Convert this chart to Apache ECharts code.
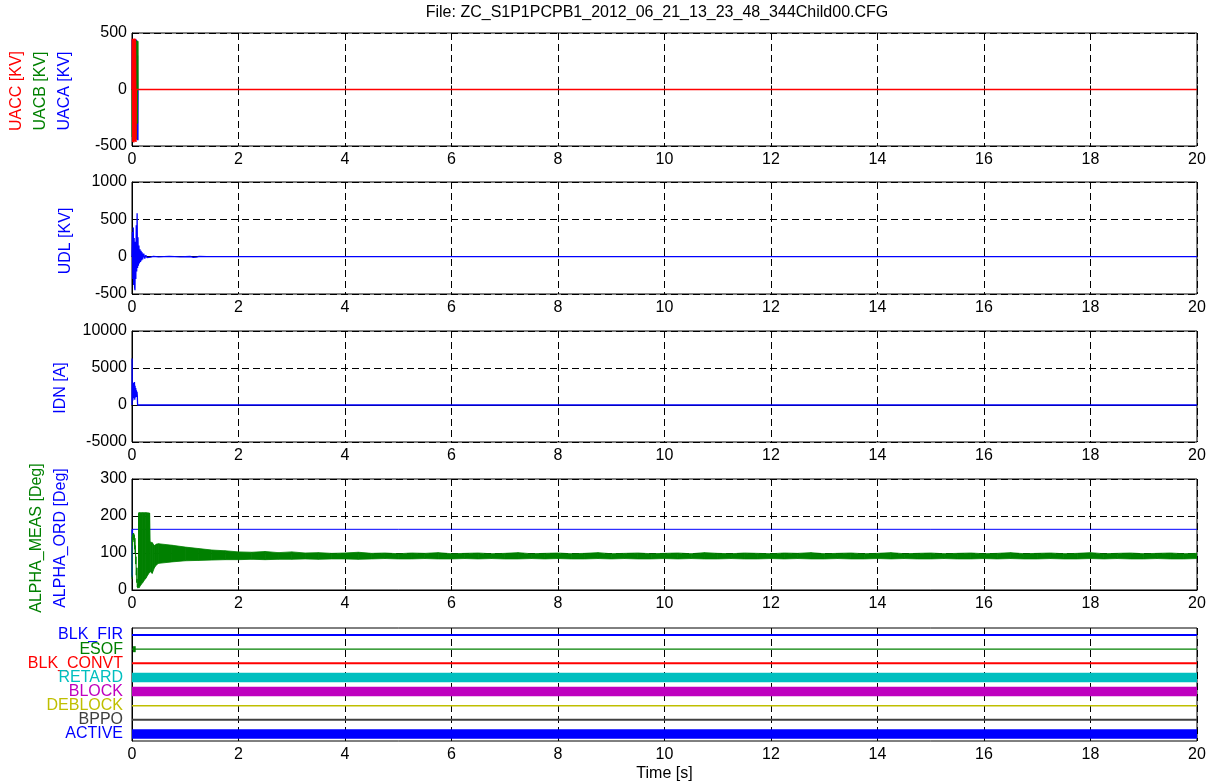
<!DOCTYPE html>
<html>
<head>
<meta charset="utf-8">
<title>ZC_S1P1PCPB1 record</title>
<script src="https://cdn.jsdelivr.net/npm/echarts@6/dist/echarts.min.js"></script>
<style>
  html, body { margin: 0; padding: 0; background: #fff; }
  #chart { width: 1213px; height: 784px; }
</style>
</head>
<body>
<div id="chart"></div>
<script>
// ---------- recorded values ----------
const fileTitle = 'File: ZC_S1P1PCPB1_2012_06_21_13_23_48_344Child00.CFG';
const xTicks = [0, 2, 4, 6, 8, 10, 12, 14, 16, 18, 20];

// AC voltages [KV]
const uacT = [0, 0.005, 0.01, 0.015, 0.02, 0.025, 0.03, 0.035, 0.04, 0.045, 0.05, 0.055,
  0.06, 0.065, 0.07, 0.075, 0.08, 0.085, 0.09, 0.095, 0.1, 0.105, 0.11, 0.115, 20];
const uaca = [0, 440, 20, -430, -10, 445, 0, -440, 10, 442, -15, -435, 0, 438, 5, -440, 0, 440,
  -5, -445, 0, 300, -449, 0, 0];
const uacb = [0, -420, 10, 430, 0, -440, 15, 425, -5, -430, 0, 428, 10, -436, 0, 430, -10, -438,
  5, 432, 0, -300, 427, 0, 0];
const uacc = [0, 450, -20, -465, 10, 448, -5, -469, 0, 451, 10, -460, 0, 450, -10, -465, 0, 0,
  0, 0, 0, 0, 0, 0, 0];

// DC line voltage [KV]
const udlT = [0, 0.008, 0.016, 0.024, 0.032, 0.04, 0.048, 0.056, 0.064, 0.072, 0.08, 0.088,
  0.096, 0.104, 0.112, 0.12, 0.13, 0.14, 0.15, 0.16, 0.17, 0.18, 0.19, 0.2, 0.22, 0.24, 0.26,
  0.28, 0.3, 0.35, 0.4, 0.5, 0.7, 0.9, 1.1, 1.15, 1.18, 1.21, 1.25, 1.4, 20];
const udl = [0, 330, -300, 390, -380, 250, -410, -450, 200, -300, 420, -200, 583, -150, 260,
  -120, 150, -90, 100, -70, 80, -50, 60, -35, 40, -25, 20, -12, 10, -6, 5, -3, 3, -2, 2, -8,
  10, -6, 2, 0, 0];

// DC current [A]
const idnT = [0, 0.002, 0.006, 0.01, 0.016, 0.022, 0.028, 0.034, 0.04, 0.046, 0.052, 0.058,
  0.064, 0.07, 0.076, 0.082, 0.088, 0.094, 0.1, 0.105, 20];
const idn = [0, 6300, 800, 2900, 600, 3000, 900, 2800, 1200, 3100, 700, 2600, 1000, 2300, 1400,
  2000, 1100, 1800, 1200, 0, 0];

// firing angle order [Deg]
const alphaOrdT = [0, 0.004, 0.008, 0.012, 20];
const alphaOrd = [35, 164, 40, 164, 164];

// measured firing angle [Deg], start of record
const alphaMeasT = [0, 0.005, 0.01, 0.015, 0.02, 0.025, 0.03, 0.035, 0.04, 0.045, 0.05, 0.055,
  0.06, 0.065, 0.07, 0.075, 0.08, 0.085, 0.09, 0.095, 0.1, 0.105, 0.11, 0.115, 0.12, 0.125];
const alphaMeas = [30, 144, 120, 150, 135, 154, 140, 152, 130, 148, 110, 140, 100, 120, 70,
  90, 40, 60, 20, 30, 8, 15, 5, 60, 10, 205];

// measured firing angle [Deg], min / max band over the rest of the record
const alphaBandT = [0.125, 0.13, 0.2, 0.26, 0.33, 0.34, 0.38, 0.42, 0.46,
  0.5, 0.75, 1, 1.25, 1.5, 1.75, 2, 2.25, 2.5, 2.75, 3, 3.25, 3.5, 3.75, 4, 4.25, 4.5, 4.75,
  5, 5.25, 5.5, 5.75, 6, 6.25, 6.5, 6.75, 7, 7.25, 7.5, 7.75, 8, 8.25, 8.5, 8.75, 9, 9.25,
  9.5, 9.75, 10, 10.25, 10.5, 10.75, 11, 11.25, 11.5, 11.75, 12, 12.25, 12.5, 12.75, 13,
  13.25, 13.5, 13.75, 14, 14.25, 14.5, 14.75, 15, 15.25, 15.5, 15.75, 16, 16.25, 16.5, 16.75,
  17, 17.25, 17.5, 17.75, 18, 18.25, 18.5, 18.75, 19, 19.25, 19.5, 19.75, 20];
const alphaMeasHi = [205, 209, 209, 209, 208, 130, 128, 120, 124,
  125, 121, 116, 112, 108, 106, 103, 102, 104, 101, 103, 100, 101, 99, 100, 102, 99, 100,
  98, 100, 99, 101, 98, 99, 100, 98, 99, 101, 98, 99, 100, 98, 99, 101, 98, 99,
  100, 98, 99, 100, 98, 101, 99, 98, 100, 99, 98, 100, 99, 101, 98,
  99, 100, 98, 99, 101, 98, 99, 100, 98, 99, 100, 98, 99, 101, 98,
  99, 100, 98, 99, 101, 98, 99, 100, 98, 99, 100, 98, 99];
const alphaMeasLo = [8, 6, 20, 32, 48, 50, 45, 60, 68,
  72, 76, 79, 80, 81, 82, 82, 83, 82, 83, 83, 84, 83, 84, 84, 83, 84, 85,
  84, 84, 85, 84, 84, 85, 84, 85, 84, 84, 85, 84, 85, 84, 84, 85, 84, 85,
  84, 84, 85, 84, 85, 84, 84, 85, 84, 84, 85, 84, 85, 84, 84,
  85, 84, 84, 85, 84, 85, 84, 84, 85, 84, 84, 85, 84, 85, 84,
  84, 85, 84, 84, 85, 84, 85, 84, 84, 85, 84, 84, 85];

// binary signals (state over the whole record) and short pulses at the start
const digNames = ['BLK_FIR', 'ESOF', 'BLK_CONVT', 'RETARD', 'BLOCK', 'DEBLOCK', 'BPPO', 'ACTIVE'];
const digStates = [0, 0, 0, 1, 1, 0, 0, 1];
const digPulseName = ['ESOF', 'DEBLOCK'];
const digPulseStart = [0.02, 0];
const digPulseEnd = [0.07, 0.012];

// ---------- styling ----------
const FONT = '"Liberation Sans", Arial, sans-serif';
const BLUE = '#0000ff', GREEN = '#008000', RED = '#ff0000';
const digColors = [BLUE, GREEN, RED, '#00bfbf', '#bf00bf', '#bfbf00', '#404040', BLUE];
const digLowWidth = [2, 1.2, 2, 1.5, 1.5, 1.5, 2, 1.5];
const digHighWidth = 9.5;

const panels = [
  { top: 33, height: 113, min: -500, max: 500, interval: 500 },
  { top: 182, height: 112, min: -500, max: 1000, interval: 500 },
  { top: 331, height: 111, min: -5000, max: 10000, interval: 5000 },
  { top: 479, height: 111, min: 0, max: 300, interval: 100 },
  { top: 628, height: 113 }
];

const pts = (t, v) => t.map((x, i) => [x, v[i]]);
const dash = { color: '#000', width: 1, type: [7, 4] };

const grid = panels.map(p => ({
  left: 132, right: 16, top: p.top, height: p.height,
  show: true, borderColor: '#000', borderWidth: 1, backgroundColor: 'transparent'
}));

const xAxis = panels.map((p, i) => ({
  type: 'value', gridIndex: i, min: 0, max: 20, interval: 2,
  axisLine: { lineStyle: { color: '#000', width: 1 } },
  axisTick: { inside: true, length: 4, lineStyle: { color: '#000' } },
  axisLabel: { color: '#000', fontSize: 16, fontFamily: FONT, margin: 6, formatter: v => String(v) },
  splitLine: { show: true, lineStyle: dash },
  name: i === 4 ? 'Time [s]' : '',
  nameLocation: 'middle', nameGap: 25,
  nameTextStyle: { color: '#000', fontSize: 16, fontFamily: FONT }
}));

const yAxis = panels.map((p, i) => {
  if (i < 4) {
    return {
      type: 'value', gridIndex: i, min: p.min, max: p.max, interval: p.interval,
      axisLine: { show: true, lineStyle: { color: '#000', width: 1 } },
      axisTick: { inside: true, length: 4, lineStyle: { color: '#000' } },
      axisLabel: { color: '#000', fontSize: 16, fontFamily: FONT, margin: 5, formatter: v => String(v) },
      splitLine: { show: true, lineStyle: dash }
    };
  }
  return {
    type: 'category', gridIndex: i, data: digNames, inverse: true, boundaryGap: true,
    axisLine: { show: true, lineStyle: { color: '#000', width: 1 } },
    axisTick: { show: false },
    axisLabel: {
      interval: 0, fontSize: 16, fontFamily: FONT, margin: 9,
      color: val => digColors[digNames.indexOf(val)]
    },
    splitLine: { show: false }
  };
});

const lineBase = {
  type: 'line', symbol: 'none', showSymbol: false, animation: false,
  sampling: null, clip: true, z: 3
};
const mk = (gi, data, color, extra) => Object.assign({}, lineBase, {
  xAxisIndex: gi, yAxisIndex: gi, data,
  lineStyle: { color, width: 1 }, itemStyle: { color }
}, extra || {});

// min/max band drawn segment by segment through the axis scales
const bandData = alphaBandT.slice(0, -1).map((t, i) =>
  [t, alphaMeasLo[i], alphaMeasHi[i], alphaBandT[i + 1], alphaMeasLo[i + 1], alphaMeasHi[i + 1]]);

const bandSeries = {
  type: 'custom', xAxisIndex: 3, yAxisIndex: 3, animation: false, z: 4, clip: true,
  encode: { x: [0, 3], y: [1, 2, 4, 5] },
  data: bandData,
  renderItem: (params, api) => {
    const a = api.coord([api.value(0), api.value(1)]);
    const b = api.coord([api.value(0), api.value(2)]);
    const c = api.coord([api.value(3), api.value(5)]);
    const d = api.coord([api.value(3), api.value(4)]);
    return {
      type: 'polygon',
      shape: { points: [a, b, c, d] },
      style: { fill: GREEN, stroke: GREEN, lineWidth: 0.8 }
    };
  }
};

const series = [
  mk(0, pts(uacT, uaca), BLUE),
  mk(0, pts(uacT, uacb), GREEN),
  mk(0, pts(uacT, uacc), RED, { z: 4, lineStyle: { color: RED, width: 1.4 } }),
  mk(1, pts(udlT, udl), BLUE, { lineStyle: { color: BLUE, width: 1.3 } }),
  mk(2, pts(idnT, idn), BLUE, { lineStyle: { color: BLUE, width: 1.3 } }),
  mk(3, pts(alphaOrdT, alphaOrd), BLUE),
  bandSeries,
  mk(3, pts(alphaMeasT, alphaMeas), GREEN, { z: 5 })
];

digNames.forEach((name, i) => {
  series.push(mk(4, [[0, i], [20, i]], digColors[i], {
    lineStyle: { color: digColors[i], width: digStates[i] ? digHighWidth : digLowWidth[i], cap: 'butt' }
  }));
});
digPulseName.forEach((name, k) => {
  const i = digNames.indexOf(name);
  series.push(mk(4, [[digPulseStart[k], i], [digPulseEnd[k], i]], digColors[i], {
    lineStyle: { color: digColors[i], width: 6, cap: 'butt' }
  }));
});

// rotated channel names beside the value axes
const axisNames = [
  { text: 'UACC [KV]', color: RED, x: 17, y: 91 },
  { text: 'UACB [KV]', color: GREEN, x: 41, y: 91 },
  { text: 'UACA [KV]', color: BLUE, x: 65, y: 91 },
  { text: 'UDL [KV]', color: BLUE, x: 66, y: 241 },
  { text: 'IDN [A]', color: BLUE, x: 61, y: 388 },
  { text: 'ALPHA_MEAS [Deg]', color: GREEN, x: 37, y: 538 },
  { text: 'ALPHA_ORD [Deg]', color: BLUE, x: 61, y: 538 }
];

const graphic = axisNames.map(n => ({
  type: 'text', x: n.x, y: n.y, rotation: Math.PI / 2,
  style: {
    text: n.text, fill: n.color, fontSize: 16, fontFamily: FONT,
    textAlign: 'center', textVerticalAlign: 'middle'
  }
}));
graphic.push({
  type: 'text', x: 657, y: 13,
  style: {
    text: fileTitle, fill: '#000', fontSize: 16, fontFamily: FONT,
    textAlign: 'center', textVerticalAlign: 'middle'
  }
});

const chart = echarts.init(document.getElementById('chart'), null, { renderer: 'canvas' });
chart.setOption({
  animation: false,
  backgroundColor: '#fff',
  textStyle: { fontFamily: FONT },
  grid, xAxis, yAxis, series, graphic
});
</script>
</body>
</html>
